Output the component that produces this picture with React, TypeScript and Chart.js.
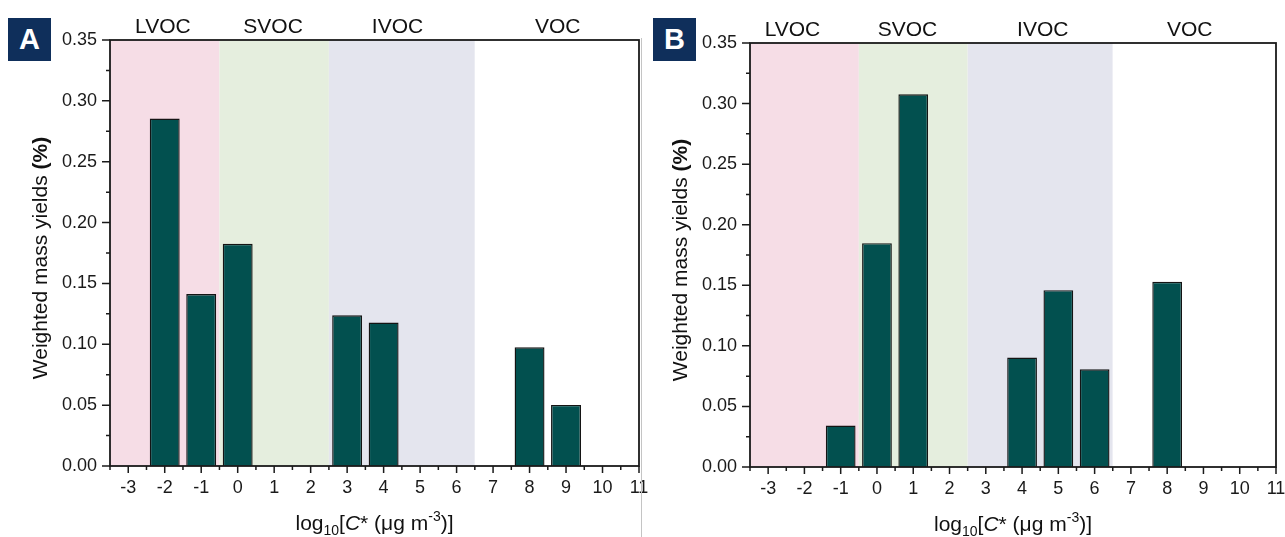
import React, { useEffect, useRef } from 'react';
import { Chart, registerables } from 'chart.js';

Chart.register(...registerables);

// ---- data ----
const xTickValues = [-3, -2, -1, 0, 1, 2, 3, 4, 5, 6, 7, 8, 9, 10, 11];
const yTickValues = [0, 0.05, 0.1, 0.15, 0.2, 0.25, 0.3, 0.35];
const regionNames = ['LVOC', 'SVOC', 'IVOC', 'VOC'];
const regionEdges = [-3.5, -0.5, 2.5, 6.5, 11];

const binsA = [-2, -1, 0, 3, 4, 8, 9];
const yieldsA = [0.2855, 0.1413, 0.1825, 0.1238, 0.1178, 0.0975, 0.0502];

const binsB = [-1, 0, 1, 4, 5, 6, 8];
const yieldsB = [0.0342, 0.1848, 0.3077, 0.0904, 0.146, 0.0807, 0.1529];

// ---- styles ----
const FAMILY = "'Liberation Sans', Arial, sans-serif";
const regionColors = ['#F6DDE6', '#E5EEDE', '#E4E5EE', '#FFFFFF'];
const BAR_COLOR = '#02504F';
const INK = '#1a1a1a';

type Seg = { t: string; font: string; dy?: number };

function drawSegs(ctx: CanvasRenderingContext2D, segs: Seg[], cx: number, y: number) {
  let w = 0;
  for (const s of segs) {
    ctx.font = s.font;
    w += ctx.measureText(s.t).width;
  }
  let xx = cx - w / 2;
  ctx.textAlign = 'left';
  for (const s of segs) {
    ctx.font = s.font;
    ctx.fillText(s.t, xx, y + (s.dy || 0));
    xx += ctx.measureText(s.t).width;
  }
}

function makePlugin(labelPos: number[]) {
  return {
    id: 'decor',
    beforeDatasetsDraw(chart: any) {
      const { ctx, chartArea: a, scales } = chart;
      const x = scales.x;
      ctx.save();
      for (let i = 0; i < regionNames.length; i++) {
        const x0 = x.getPixelForValue(regionEdges[i]);
        const x1 = x.getPixelForValue(regionEdges[i + 1]);
        ctx.fillStyle = regionColors[i];
        ctx.fillRect(x0, a.top, x1 - x0, a.bottom - a.top);
      }
      ctx.restore();
    },
    afterDatasetsDraw(chart: any) {
      const { ctx, chartArea: a, scales } = chart;
      const x = scales.x;
      const y = scales.y;
      ctx.save();
      ctx.strokeStyle = INK;
      ctx.fillStyle = INK;
      ctx.lineWidth = 1.8;
      ctx.strokeRect(a.left, a.top, a.right - a.left, a.bottom - a.top);

      ctx.lineWidth = 1.5;
      ctx.beginPath();
      // x ticks (major + minor)
      for (let i = 0; i < xTickValues.length; i++) {
        const px = x.getPixelForValue(xTickValues[i]);
        ctx.moveTo(px, a.bottom);
        ctx.lineTo(px, a.bottom + 7);
        const pm = x.getPixelForValue(xTickValues[i] - 0.5);
        ctx.moveTo(pm, a.bottom);
        ctx.lineTo(pm, a.bottom + 4);
      }
      // y ticks
      for (let i = 0; i < yTickValues.length; i++) {
        const py = y.getPixelForValue(yTickValues[i]);
        ctx.moveTo(a.left, py);
        ctx.lineTo(a.left - 8, py);
        if (i < yTickValues.length - 1) {
          const pm = y.getPixelForValue((yTickValues[i] + yTickValues[i + 1]) / 2);
          ctx.moveTo(a.left, pm);
          ctx.lineTo(a.left - 4, pm);
        }
      }
      ctx.stroke();

      // region labels
      ctx.fillStyle = '#111';
      ctx.font = `21px ${FAMILY}`;
      ctx.textAlign = 'center';
      ctx.textBaseline = 'alphabetic';
      for (let i = 0; i < regionNames.length; i++) {
        ctx.fillText(regionNames[i], x.getPixelForValue(labelPos[i]), a.top - 7);
      }

      // x title
      const big = `21px ${FAMILY}`;
      const small = `14px ${FAMILY}`;
      drawSegs(
        ctx,
        [
          { t: 'log', font: big },
          { t: '10', font: small, dy: 5 },
          { t: '[', font: big },
          { t: 'C', font: `italic 21px ${FAMILY}` },
          { t: '* (\u03BCg m', font: big },
          { t: '-3', font: small, dy: -9 },
          { t: ')]', font: big },
        ],
        (a.left + a.right) / 2,
        a.bottom + 64
      );

      // y title
      ctx.translate(a.left - 69, (a.top + a.bottom) / 2 + 5);
      ctx.rotate(-Math.PI / 2);
      ctx.textBaseline = 'middle';
      drawSegs(
        ctx,
        [
          { t: 'Weighted mass yields ', font: big },
          { t: '(%)', font: `bold 21px ${FAMILY}` },
        ],
        0,
        0
      );
      ctx.restore();
    },
  };
}

type PanelProps = {
  bins: number[];
  yields: number[];
  labelPos: number[];
  width: number;
  padRight: number;
  padTop: number;
  bottomH: number;
  yW: number;
};

function Panel(p: PanelProps) {
  const ref = useRef<HTMLCanvasElement>(null);
  useEffect(() => {
    const chart = new Chart(ref.current as HTMLCanvasElement, {
      type: 'bar',
      data: {
        datasets: [
          {
            data: p.bins.map((b, i) => ({ x: b, y: p.yields[i] })),
            backgroundColor: BAR_COLOR,
            borderColor: '#141414',
            borderWidth: 1.4,
            barPercentage: 0.82,
            categoryPercentage: 1,
          } as any,
        ],
      },
      options: {
        responsive: false,
        animation: false,
        events: [],
        layout: { padding: { left: 0, right: p.padRight, top: p.padTop, bottom: 0 } },
        plugins: { legend: { display: false }, tooltip: { enabled: false } },
        scales: {
          x: {
            type: 'linear',
            min: -3.5,
            max: 11,
            offset: false,
            grid: { display: false, drawTicks: false },
            border: { display: false },
            afterBuildTicks: (s: any) => {
              s.ticks = xTickValues.map((v) => ({ value: v }));
            },
            afterFit: (s: any) => {
              s.height = p.bottomH;
              s.paddingLeft = 0;
              s.paddingRight = 0;
            },
            ticks: {
              autoSkip: false,
              maxRotation: 0,
              padding: 11,
              color: INK,
              font: { family: FAMILY, size: 18 },
              callback: (v: any) => String(v),
            },
          } as any,
          y: {
            min: 0,
            max: 0.35,
            grid: { display: false, drawTicks: false },
            border: { display: false },
            afterBuildTicks: (s: any) => {
              s.ticks = yTickValues.map((v) => ({ value: v }));
            },
            afterFit: (s: any) => {
              s.width = p.yW;
              s.paddingTop = 0;
              s.paddingBottom = 0;
            },
            ticks: {
              padding: 13,
              color: INK,
              font: { family: FAMILY, size: 18 },
              callback: (v: any) => Number(v).toFixed(2),
            },
          } as any,
        },
      },
      plugins: [makePlugin(p.labelPos) as any],
    });
    return () => chart.destroy();
  }, []);
  return <canvas ref={ref} width={p.width} height={537} style={{ display: 'block' }} />;
}

const boxStyle = (left: number): React.CSSProperties => ({
  position: 'absolute',
  left,
  top: 18,
  width: 43,
  height: 43,
  background: '#0F2F5B',
  color: '#fff',
  fontFamily: FAMILY,
  fontWeight: 'bold',
  fontSize: 29,
  lineHeight: '43px',
  textAlign: 'center',
});

export default function App() {
  return (
    <div
      style={{
        position: 'absolute',
        left: 0,
        top: 0,
        width: 1285,
        height: 537,
        background: '#fff',
        overflow: 'hidden',
      }}
    >
      <div style={{ position: 'absolute', left: 0, top: 0 }}>
        <Panel
          bins={binsA}
          yields={yieldsA}
          labelPos={[-2.05, 0.97, 4.38, 8.77]}
          width={662}
          padRight={23}
          padTop={40}
          bottomH={71}
          yW={110}
        />
      </div>
      <div style={{ position: 'absolute', left: 641, top: 38, width: 1, height: 499, background: '#c4c4c4' }} />
      <div style={{ position: 'absolute', left: 642, top: 0 }}>
        <Panel
          bins={binsB}
          yields={yieldsB}
          labelPos={[-2.33, 0.84, 4.57, 8.62]}
          width={643}
          padRight={9}
          padTop={43}
          bottomH={70}
          yW={108}
        />
      </div>
      <div style={boxStyle(8)}>A</div>
      <div style={boxStyle(653)}>B</div>
    </div>
  );
}
